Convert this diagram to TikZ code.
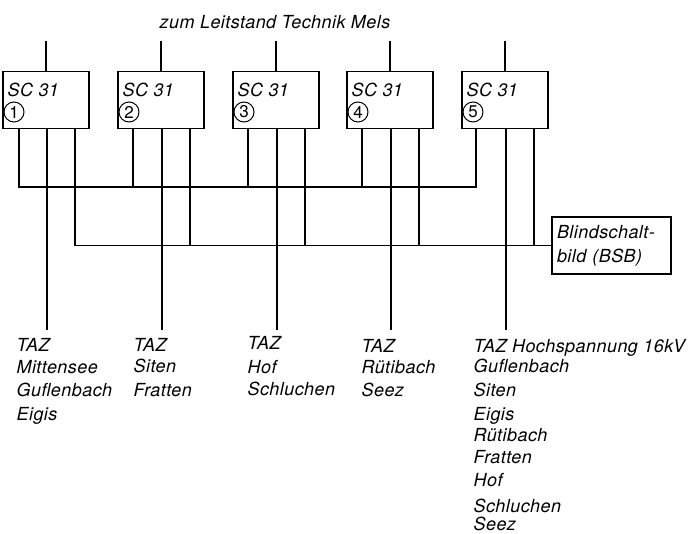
\documentclass[tikz,border=0pt]{standalone}
\usepackage{fontspec}
\setmainfont{TeX Gyre Heros}[LetterSpace=2.5]
\begin{document}
\begin{tikzpicture}[x=1pt,y=-1pt,line width=1.2pt,
  every node/.style={font=\fontsize{18}{24}\selectfont\itshape},
  scbox/.style={draw,minimum width=86pt,minimum height=57pt,inner sep=0pt},
  num/.style={draw,circle,line width=1pt,minimum size=20pt,inner sep=0pt,font=\fontsize{17}{17}\selectfont\upshape},
  lbl/.style={anchor=base west,inner sep=0pt},
  bsbbox/.style={draw,minimum width=119pt,minimum height=57pt,inner sep=5pt,text width=109pt,align=left}]
\useasboundingbox (0,0) rectangle (698,533);
% title
\node[inner sep=0pt] (title) at (275,22) {zum Leitstand Technik Mels};
% SC boxes
\foreach \i/\x in {1/46,2/161,3/276,4/390,5/505}{
  \node[scbox] (sc\i) at (\x,100) {};
  \node[lbl] (sct\i) at (\x-39,96) {SC 31};
  \node[num] (n\i) at (\x-32,112) {\i};
  \coordinate (top\i) at (\x,41);
  \coordinate (end\i) at (\x+1,330);
  \draw (top\i) -- (sc\i.north);
  \draw ([xshift=1pt]sc\i.south) -- (end\i);
}
\coordinate (bus1) at (0,187);
% Blindschaltbild
\node[bsbbox] (bsb) at (611.5,245.5) {Blindschalt-\\bild (BSB)};
% bus 1
\draw ([xshift=-27pt]sc1.south) |- ([xshift=-29pt]sc5.south |- bus1) -- ([xshift=-29pt]sc5.south);
\foreach \i in {2,3,4}{
  \draw ([xshift=-28pt]sc\i.south) -- ([xshift=-28pt]sc\i.south |- bus1);
}
% bus 2
\draw ([xshift=29pt]sc1.south) |- (bsb.west);
\foreach \i in {2,3,4,5}{
  \draw ([xshift=29pt]sc\i.south) -- ([xshift=29pt]sc\i.south |- bsb.west);
}
% labels
\node[lbl] (a1) at (16,351) {TAZ};
\node[lbl] (a2) at (16,373) {Mittensee};
\node[lbl] (a3) at (16,396) {Guflenbach};
\node[lbl] (a4) at (16,420) {Eigis};
\node[lbl] (b1) at (133,351) {TAZ};
\node[lbl] (b2) at (133,372) {Siten};
\node[lbl] (b3) at (133,396) {Fratten};
\node[lbl] (c1) at (247,349) {TAZ};
\node[lbl] (c2) at (247,373) {Hof};
\node[lbl] (c3) at (247,395) {Schluchen};
\node[lbl] (d1) at (361,352) {TAZ};
\node[lbl] (d2) at (361,373) {Rütibach};
\node[lbl] (d3) at (361,396) {Seez};
\node[lbl] (e1) at (473,352) {TAZ Hochspannung 16kV};
\node[lbl] (e2) at (473,372) {Guflenbach};
\node[lbl] (e3) at (473,396) {Siten};
\node[lbl] (e4) at (473,420) {Eigis};
\node[lbl] (e5) at (473,441) {Rütibach};
\node[lbl] (e6) at (473,463) {Fratten};
\node[lbl] (e7) at (473,486) {Hof};
\node[lbl] (e8) at (473,512) {Schluchen};
\node[lbl] (e9) at (473,530) {Seez};
\end{tikzpicture}
\end{document}
